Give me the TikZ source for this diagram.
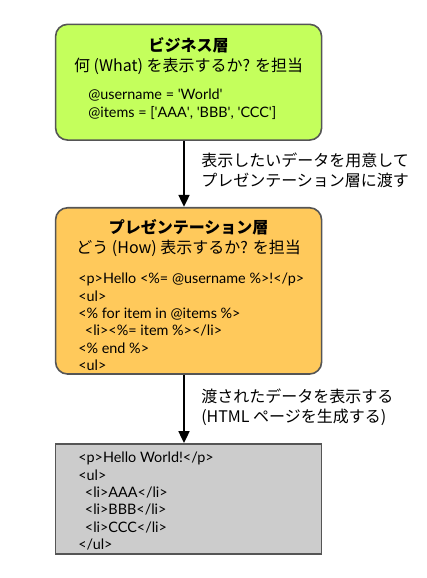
\documentclass[tikz,border=0pt]{standalone}
\usepackage{fontspec}
\setmainfont{Lato}
\newfontfamily\jp{Noto Sans CJK JP}
\usetikzlibrary{arrows.meta}
\definecolor{bizgreen}{RGB}{196,255,92}
\definecolor{presorange}{RGB}{255,201,91}
\definecolor{htmlgray}{RGB}{204,204,204}
\definecolor{edgegray}{RGB}{85,85,85}
\newcommand{\q}{\textquotesingle}
\tikzset{
  layer/.style={draw=edgegray, line width=1.2pt, minimum width=199.5pt, inner sep=0pt},
  bizbox/.style={layer, fill=bizgreen, rounded corners=9pt, minimum height=86.8pt},
  presbox/.style={layer, fill=presorange, rounded corners=9pt, minimum height=124.7pt},
  htmlbox/.style={layer, fill=htmlgray, minimum height=82.5pt},
  title/.style={font=\jp\bfseries\fontsize{12}{14}\selectfont},
  duty/.style={font=\jp\fontsize{12}{14}\selectfont},
  code/.style={font=\fontsize{10.8}{13}\selectfont, align=left, anchor=north west, inner sep=0pt},
  note/.style={font=\jp\fontsize{12}{15}\selectfont, align=left, anchor=west, inner sep=0pt},
  flow/.style={line width=1.9pt, -{Triangle[length=9pt,width=8pt]}}
}
\begin{document}
\begin{tikzpicture}[x=0.75pt,y=-0.75pt]
\useasboundingbox (0,0) rectangle (426,578);
% layers
\node[bizbox] (biz) at (188.6,82.2) {};
\node[presbox] (pres) at (188.6,290.9) {};
\node[htmlbox] (html) at (188.6,499) {};
% business layer
\node[title] (biztitle) at (188.6,45) {ビジネス層};
\node[duty] (bizduty) at (188.6,66) {何 (What) を表示するか? を担当};
\node[code] (bizcode) at (88,89) {@username = \q World\q\\@items = [\q AAA\q, \q BBB\q, \q CCC\q]};
% presentation layer
\node[title] (prestitle) at (188.6,227) {プレゼンテーション層};
\node[duty] (presduty) at (188.6,248) {どう (How) 表示するか? を担当};
\node[code] (prescode) at (78,273) {<p>Hello <\%= @username \%>!</p>\\<ul>\\<\% for item in @items \%>\\
  \hspace*{5pt}<li><\%= item \%></li>\\<\% end \%>\\<ul>};
% generated html
\node[code] (htmlcode) at (78,452) {<p>Hello World!</p>\\<ul>\\
  \hspace*{5pt}<li>AAA</li>\\\hspace*{5pt}<li>BBB</li>\\\hspace*{5pt}<li>CCC</li>\\</ul>};
% connectors
\coordinate (lane) at (184,0);
\draw[flow] (biz.south -| lane) -- (pres.north -| lane);
\draw[flow] (pres.south -| lane) -- (html.north -| lane);
\node[note] (prepare) at (201,170) {表示したいデータを用意して\\プレゼンテーション層に渡す};
\node[note] (render) at (201,407) {渡されたデータを表示する\\(HTML ページを生成する)};
\end{tikzpicture}
\end{document}
